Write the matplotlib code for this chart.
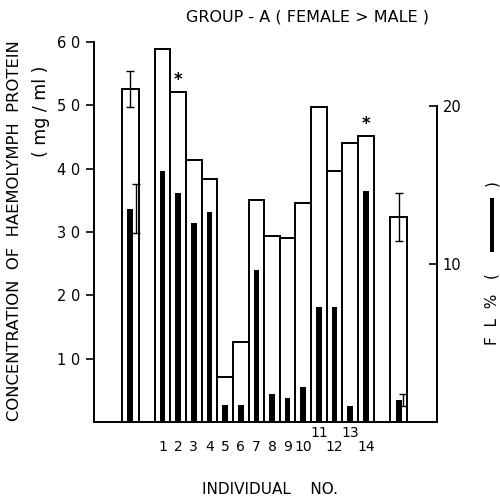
import matplotlib
matplotlib.use("Agg")
import matplotlib.pyplot as plt
from matplotlib.patches import Rectangle
import matplotlib.transforms as mtransforms

# ---- data ----
individuals = ['1', '2', '3', '4', '5', '6', '7', '8', '9', '10', '11', '12', '13', '14']
protein = [5.89, 5.21, 4.13, 3.83, 0.71, 1.26, 3.51, 2.94, 2.91, 3.46, 4.98, 3.97, 4.41, 4.52]
fl_pct = [15.9, 14.5, 12.6, 13.3, 1.1, 1.1, 9.6, 1.8, 1.55, 2.2, 7.3, 7.3, 1.0, 14.6]
mean_protein = [5.26, 3.24]
mean_protein_err = [0.28, 0.38]
mean_fl = [13.5, 1.4]
mean_fl_err = [1.55, 0.4]
starred = ['2', '14']
left_ticks = [1, 2, 3, 4, 5, 6]
left_ticklabels = ['1 0', '2 0', '3 0', '4 0', '5 0', '6 0']
right_ticks = [10, 20]
right_ticklabels = ['10', '20']

W, H = 500, 497
fig = plt.figure(figsize=(W / 100, H / 100), dpi=100)
plt.rcParams['font.family'] = ['DejaVu Sans']

def fx(px):
    return px / W

def fy(py):
    return 1 - py / H

ax_left, ax_right_px, ax_bot, ax_top = 94, 437, 422, 42
ax = fig.add_axes([fx(ax_left), fy(ax_bot), fx(ax_right_px - ax_left), (ax_bot - ax_top) / H])
ax2 = ax.twinx()

xpos = list(range(1, len(individuals) + 1))
mean_x = [-1.05, 16.1]
lw = 1.4

ax.bar(xpos, protein, width=1.0, color='white', edgecolor='black', linewidth=lw, zorder=2)
ax.bar(mean_x, mean_protein, width=1.05, color='white', edgecolor='black', linewidth=lw, zorder=2)
ax.errorbar(mean_x, mean_protein, yerr=mean_protein_err, fmt='none', ecolor='black',
            elinewidth=1.0, capsize=3, capthick=1.0, zorder=3)

for lab in starred:
    i = individuals.index(lab)
    ax.text(xpos[i], protein[i] + 0.04, '*', ha='center', va='bottom', fontsize=12,
            fontweight='bold')

ax.set_xlim(-3.38, 18.55)
ax.set_ylim(0, 6.0)
ax.set_yticks(left_ticks)
ax.set_yticklabels(left_ticklabels, fontsize=10.5)
ax.tick_params(axis='y', direction='out', length=6, width=1.2, pad=4)
ax.set_xticks([])
for s in ['top', 'right']:
    ax.spines[s].set_visible(False)
for s in ['left', 'bottom']:
    ax.spines[s].set_linewidth(1.4)

# black FL% bars
ax2.bar(xpos, fl_pct, width=0.36, color='black', edgecolor='black', linewidth=0, zorder=3)
ax2.bar(mean_x, mean_fl, width=0.38, color='black', edgecolor='black', linewidth=0, zorder=3)
ax2.errorbar([mean_x[0] + 0.38, mean_x[1] + 0.3], mean_fl, yerr=mean_fl_err, fmt='none',
             ecolor='black', elinewidth=1.0, capsize=3, capthick=1.0, zorder=3)
ax2.set_ylim(0, 24.05)
ax2.set_yticks(right_ticks)
ax2.set_yticklabels(right_ticklabels, fontsize=10.5)
ax2.tick_params(axis='y', direction='in', length=6, width=1.2, pad=4)
ax2.spines['right'].set_bounds(0, 20)
ax2.spines['right'].set_linewidth(1.4)
for s in ['top', 'left', 'bottom']:
    ax2.spines[s].set_visible(False)

# x labels (individual numbers)
trans = mtransforms.blended_transform_factory(ax.transData, fig.transFigure)
raised = ['11', '13']
for x, lab in zip(xpos, individuals):
    y = 433 if lab in raised else 447
    ax.text(x, fy(y), lab, transform=trans, ha='center', va='center', fontsize=10)

fig.text(fx(270), fy(490), 'INDIVIDUAL    NO.', ha='center', va='center', fontsize=11)
fig.text(fx(307), fy(17), 'GROUP - A ( FEMALE > MALE )', ha='center', va='center', fontsize=11.5)

fig.text(fx(15), fy(231), 'CONCENTRATION  OF  HAEMOLYMPH  PROTEIN', rotation=90,
         ha='center', va='center', fontsize=11.8)
fig.text(fx(41), fy(111), '( mg / ml )', rotation=90, ha='center', va='center', fontsize=12.5)

# right label
fig.text(fx(492), fy(345), 'F  L  %   (', rotation=90, ha='center', va='bottom', fontsize=11)
fig.text(fx(492), fy(183), ')', rotation=90, ha='center', va='center', fontsize=11)
fig.patches.append(Rectangle((fx(489.5), fy(252)), fx(4), (252 - 198) / H,
                             transform=fig.transFigure, facecolor='black', edgecolor='none'))

fig.savefig('out.png', dpi=100)
